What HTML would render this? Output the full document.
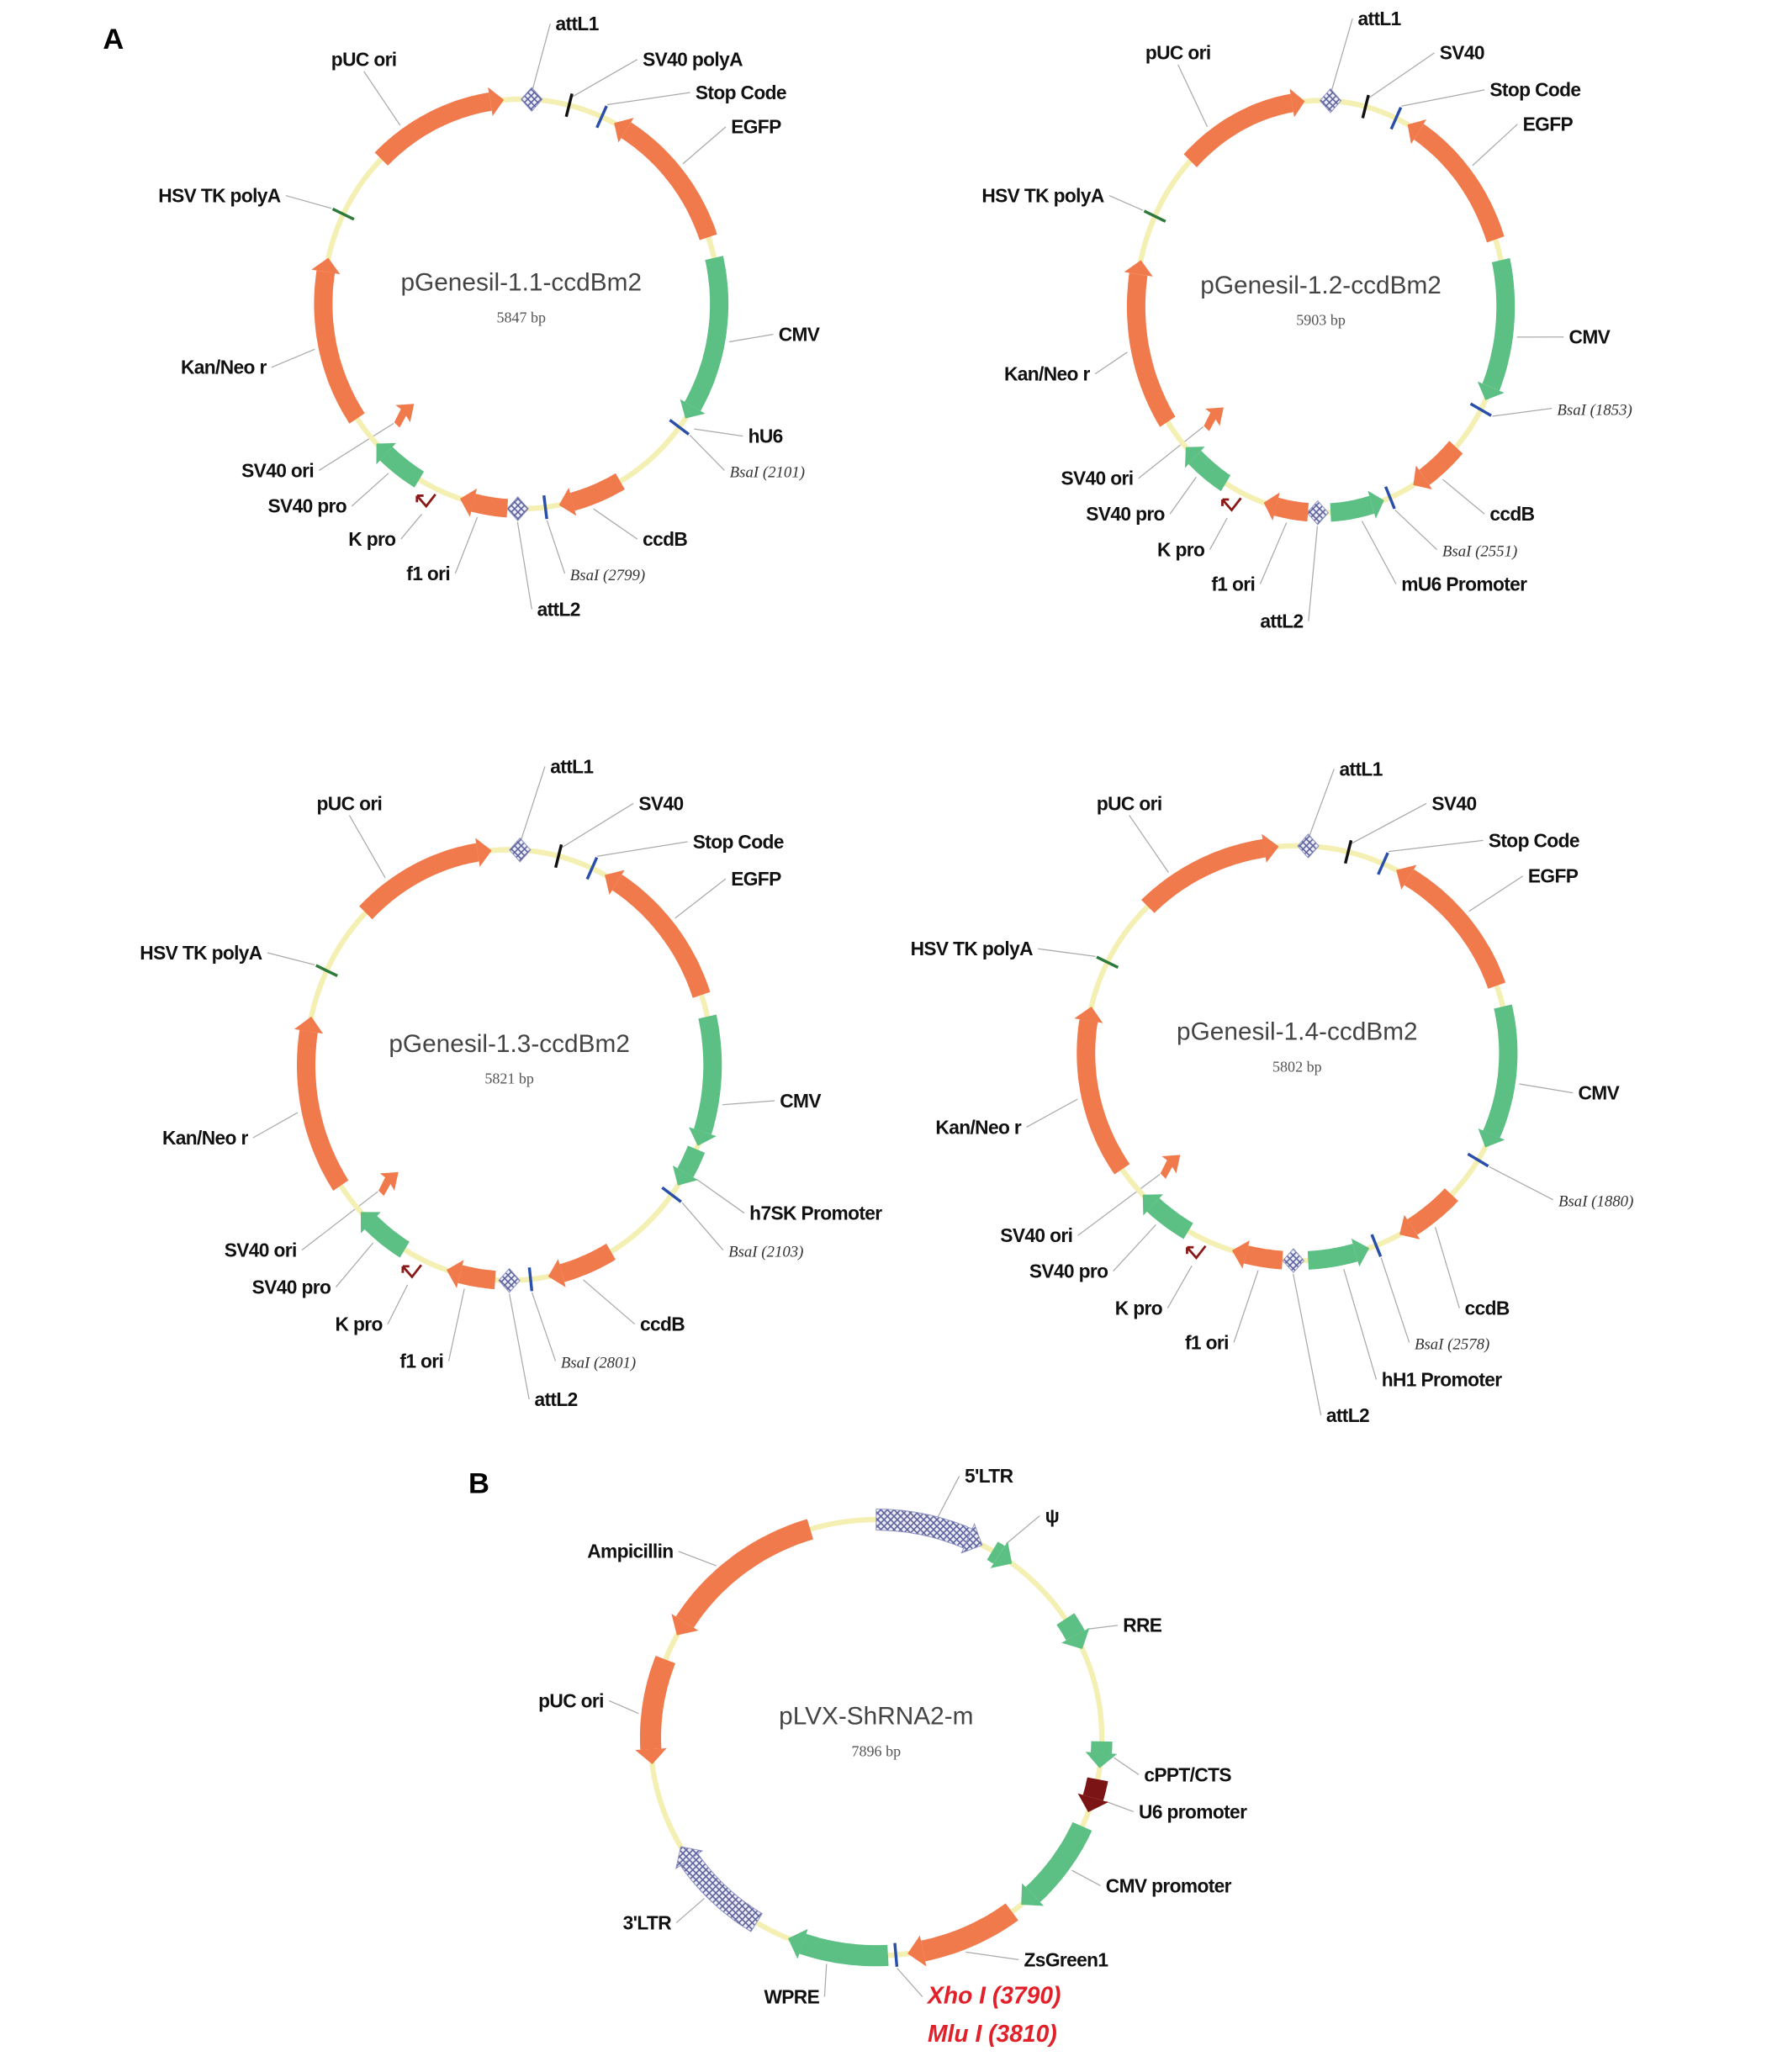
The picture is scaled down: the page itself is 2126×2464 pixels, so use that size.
<!DOCTYPE html>
<html><head><meta charset="utf-8">
<style>
html,body{margin:0;padding:0;background:#fff;}
svg{display:block;}
text{font-family:"Liberation Sans",Arial,sans-serif;}
.lb{font-weight:bold;font-size:14.5px;fill:#111;letter-spacing:-0.4px;}
.bs{font-family:"Liberation Serif",serif;font-style:italic;font-size:12px;fill:#333;}
.tt{font-size:19px;fill:#444;}
.bp{font-family:"Liberation Serif",serif;font-size:11.5px;fill:#555;}
.rd{font-weight:bold;font-style:italic;font-size:18px;fill:#e2202a;}
</style></head>
<body>
<svg id="fig" width="2126" height="2464" viewBox="0 0 1355 1568" preserveAspectRatio="none" xmlns="http://www.w3.org/2000/svg">
<defs>
<pattern id="hatch" width="5" height="5" patternUnits="userSpaceOnUse">
<rect width="5" height="5" fill="#eeeef8"/>
<path d="M0 0L5 5M5 0L0 5" stroke="#5a5f9a" stroke-width="1"/>
</pattern>
</defs>
<text x="78" y="37" font-family="Liberation Serif" font-weight="bold" font-size="22">A</text>
<text x="355" y="1130" font-family="Liberation Serif" font-weight="bold" font-size="22">B</text>
<g id="layer"></g>
</svg>
<script>
// ---- map definitions (center, radii) ----
const mapNames=["pGenesil-1.1-ccdBm2","pGenesil-1.2-ccdBm2","pGenesil-1.3-ccdBm2","pGenesil-1.4-ccdBm2","pLVX-ShRNA2-m"];
const mapSizes=["5847 bp","5903 bp","5821 bp","5802 bp","7896 bp"];
const mapGeom=[[395,230,150,155],[1001,232,140,156],[386,806,154,163],[983,797,160,157],[664,1315,171,165]];
// features: [name, startAngle, endAngle, type, dir]  (angles in degrees clockwise from top)
const feats1=[["puc-ori",315,355,"o",1],["attl1",3,3,"h",0],["sv40-polya",14,14,"k",0],["stop-code",24,24,"b",0],["egfp",28,71,"o",-1],["cmv",77,124,"g",1],["bsai-2101",127,127,"b",0],["ccdb",150,169,"o",1],["bsai-2799",173,173,"b",0],["attl2",181,181,"h",0],["f1-ori",184,198,"o",1],["sv40-pro",211,227,"g",1],["kan-neo-r",236,283,"o",1],["hsv-tk-polya",296,296,"t",0]];
const feats2=[["puc-ori",315,355,"o",1],["attl1",3,3,"h",0],["sv40",14,14,"k",0],["stop-code",24,24,"b",0],["egfp",28,71,"o",-1],["cmv",77,117,"g",1],["bsai-1853",120,120,"b",0],["ccdb",133,150,"o",1],["bsai-2551",158,158,"b",0],["mu6-promoter",160,177,"g",-1],["attl2",181,181,"h",0],["f1-ori",184,198,"o",1],["sv40-pro",211,227,"g",1],["kan-neo-r",236,283,"o",1],["hsv-tk-polya",296,296,"t",0]];
const feats3=[["puc-ori",315,355,"o",1],["attl1",3,3,"h",0],["sv40",14,14,"k",0],["stop-code",24,24,"b",0],["egfp",28,71,"o",-1],["cmv",77,112,"g",1],["h7sk-promoter",113,124,"g",1],["bsai-2103",127,127,"b",0],["ccdb",150,169,"o",1],["bsai-2801",174,174,"b",0],["attl2",180,180,"h",0],["f1-ori",184,198,"o",1],["sv40-pro",211,227,"g",1],["kan-neo-r",236,283,"o",1],["hsv-tk-polya",296,296,"t",0]];
const feats4=[["puc-ori",315,355,"o",1],["attl1",3,3,"h",0],["sv40",14,14,"k",0],["stop-code",24,24,"b",0],["egfp",28,71,"o",-1],["cmv",77,117,"g",1],["bsai-1880",121,121,"b",0],["ccdb",133,151,"o",1],["bsai-2578",158,158,"b",0],["hh1-promoter",160,177,"g",-1],["attl2",181,181,"h",0],["f1-ori",184,198,"o",1],["sv40-pro",211,227,"g",1],["kan-neo-r",236,283,"o",1],["hsv-tk-polya",296,296,"t",0]];
const featsB=[["5-ltr",0,28,"H",1],["psi",31,37,"g",1],["rre",57,66,"g",1],["cppt-cts",91,98,"g",1],["u6-promoter",101,110,"r",1],["cmv-promoter",114,140,"g",1],["zsgreen1",143,172,"o",1],["xho-mlu-site",175,175,"b",0],["wpre",177,203,"g",1],["3-ltr",212,240,"H",1],["puc-ori",263,291,"o",-1],["ampicillin",298,343,"o",-1]];
const mapFeats=[feats1,feats2,feats3,feats4,featsB];
// labels: [text, leftX, centerY, angle, class]
const labels1=[["attL1",421,18,3,"lb"],["SV40 polyA",487,45,14,"lb"],["Stop Code",527,70,24,"lb"],["EGFP",554,96,50,"lb"],["CMV",590,253,100,"lb"],["hU6",567,330,125,"lb"],["BsaI (2101)",553,356,127,"bs"],["ccdB",487,408,160,"lb"],["BsaI (2799)",432,434,173,"bs"],["attL2",407,461,181,"lb"],["f1 ori",308,434,192,"lb"],["K pro",264,408,-1,"lb"],["SV40 pro",203,383,219,"lb"],["SV40 ori",183,356,-2,"lb"],["Kan/Neo r",137,278,258,"lb"],["HSV TK polyA",120,148,296,"lb"],["pUC ori",251,45,325,"lb"]];
const labels2=[["attL1",1029,14,3,"lb"],["SV40",1091,40,14,"lb"],["Stop Code",1129,68,24,"lb"],["EGFP",1154,94,50,"lb"],["CMV",1189,255,98,"lb"],["BsaI (1853)",1180,309,120,"bs"],["ccdB",1129,389,142,"lb"],["BsaI (2551)",1093,416,158,"bs"],["mU6 Promoter",1062,442,168,"lb"],["attL2",955,470,181,"lb"],["f1 ori",918,442,190,"lb"],["K pro",877,416,-1,"lb"],["SV40 pro",823,389,219,"lb"],["SV40 ori",804,362,-2,"lb"],["Kan/Neo r",761,283,258,"lb"],["HSV TK polyA",744,148,296,"lb"],["pUC ori",868,40,325,"lb"]];
const labels3=[["attL1",417,580,3,"lb"],["SV40",484,608,14,"lb"],["Stop Code",525,637,24,"lb"],["EGFP",554,665,50,"lb"],["CMV",591,833,100,"lb"],["h7SK Promoter",568,918,120,"lb"],["BsaI (2103)",552,946,127,"bs"],["ccdB",485,1002,160,"lb"],["BsaI (2801)",425,1030,174,"bs"],["attL2",405,1059,180,"lb"],["f1 ori",303,1030,192,"lb"],["K pro",254,1002,-1,"lb"],["SV40 pro",191,974,219,"lb"],["SV40 ori",170,946,-2,"lb"],["Kan/Neo r",123,861,258,"lb"],["HSV TK polyA",106,721,296,"lb"],["pUC ori",240,608,325,"lb"]];
const labels4=[["attL1",1015,582,3,"lb"],["SV40",1085,608,14,"lb"],["Stop Code",1128,636,24,"lb"],["EGFP",1158,663,50,"lb"],["CMV",1196,827,98,"lb"],["BsaI (1880)",1181,908,121,"bs"],["ccdB",1110,990,142,"lb"],["BsaI (2578)",1072,1016,158,"bs"],["hH1 Promoter",1047,1044,168,"lb"],["attL2",1005,1071,181,"lb"],["f1 ori",898,1016,190,"lb"],["K pro",845,990,-1,"lb"],["SV40 pro",780,962,219,"lb"],["SV40 ori",758,935,-2,"lb"],["Kan/Neo r",709,853,258,"lb"],["HSV TK polyA",690,718,296,"lb"],["pUC ori",831,608,325,"lb"]];
const labelsB=[["5'LTR",731,1117,15,"lb"],["ψ",792,1147,33,"lb"],["RRE",851,1230,62,"lb"],["cPPT/CTS",867,1343,95,"lb"],["U6 promoter",863,1371,106,"lb"],["CMV promoter",838,1427,125,"lb"],["ZsGreen1",776,1483,158,"lb"],["Xho I (3790)",703,1511,175,"rd"],["Mlu I (3810)",703,1540,null,"rd"],["WPRE",579,1511,192,"lb"],["3'LTR",472,1455,226,"lb"],["pUC ori",408,1287,276,"lb"],["Ampicillin",445,1174,318,"lb"]];
const mapLabels=[labels1,labels2,labels3,labels4,labelsB];

const NS="http://www.w3.org/2000/svg";
const layer=document.getElementById('layer');
const COL={o:"#f07a4c",g:"#5cbf83",r:"#7b1414"};
function el(tag,attrs,parent){const e=document.createElementNS(NS,tag);for(const k in attrs)e.setAttribute(k,attrs[k]);(parent||layer).appendChild(e);return e;}
function P(g,a,dr){const r=a*Math.PI/180;return [g[0]+(g[2]+dr)*Math.sin(r),g[1]-(g[3]+dr)*Math.cos(r)];}
function arcPts(g,a1,a2,dr){const pts=[];const n=Math.max(2,Math.ceil(Math.abs(a2-a1)));for(let i=0;i<=n;i++)pts.push(P(g,a1+(a2-a1)*i/n,dr));return pts;}
function ptsStr(p){return p.map(q=>q[0].toFixed(1)+","+q[1].toFixed(1)).join(" ");}

mapGeom.forEach((g,mi)=>{
  const grp=el('g',{});
  
  
  const bb=el('ellipse',{cx:g[0],cy:g[1],rx:g[2],ry:g[3],fill:"none",stroke:"#f4efb2","stroke-width":4},grp);
  
  
  const w=mi==4?8:7, hw=mi==4?12:11;
  mapFeats[mi].forEach(f=>{
    const [name,a1,a2,type,dir]=f;
    let e;
    if(type=="k"||type=="b"||type=="t"){
      const p1=P(g,a1,-9),p2=P(g,a1,9);
      e=el('line',{x1:p1[0],y1:p1[1],x2:p2[0],y2:p2[1],stroke:type=="k"?"#111":type=="b"?"#2a4fa8":"#2d7a3a","stroke-width":2.2},grp);
    } else if(type=="h"){
      const c=P(g,a1,0);
      e=el('polygon',{points:ptsStr([[c[0]-8,c[1]],[c[0],c[1]-9],[c[0]+8,c[1]],[c[0],c[1]+9]]),fill:"url(#hatch)",stroke:"#8c90c0","stroke-width":0.6},grp);
    } else {
      const span=a2-a1;
      const hd=Math.min(span,Math.max(4,1200/ (g[2]*Math.PI)));
      let body,head;
      if(dir>=0){
        const b=a2-hd;
        body=span>hd?arcPts(g,a1,b,w).concat(arcPts(g,b,a1,-w)):[];
        head=[P(g,b,hw),P(g,a2,0),P(g,b,-hw)];
      } else {
        const b=a1+hd;
        body=span>hd?arcPts(g,b,a2,w).concat(arcPts(g,a2,b,-w)):[];
        head=[P(g,b,hw),P(g,a1,0),P(g,b,-hw)];
      }
      const fill=type=="H"?"url(#hatch)":COL[type];
      const stroke=type=="H"?"#8c90c0":"none";
      e=el('g',{},grp);
      if(body.length)el('polygon',{points:ptsStr(body),fill:fill,stroke:stroke,"stroke-width":0.6},e);
      el('polygon',{points:ptsStr(head),fill:fill,stroke:stroke,"stroke-width":0.6},e);
    }
    
    
  });
  if(mi<4){
    // SV40 ori small arrow & K pro bent arrow
    const s=P(g,228,-30);
    const so=el('polygon',{points:ptsStr([[s[0]-7,s[1]+6],[s[0]-2,s[1]-4],[s[0]-6,s[1]-7],[s[0]+8,s[1]-8],[s[0]+5,s[1]+6],[s[0]+2,s[1]+1],[s[0]-3,s[1]+10]]),fill:COL.o},grp);
    
    
    const k=P(g,206,12);
    const kp=el('path',{d:`M${k[0]-8},${k[1]-5} L${k[0]-1},${k[1]+3} L${k[0]+6},${k[1]-6} M${k[0]-8},${k[1]-5} l5,0 M${k[0]-8},${k[1]-5} l0,5`,fill:"none",stroke:"#8a1a1a","stroke-width":1.8},grp);
    
    
  }
  const t=el('text',{x:g[0],y:g[1]-10,"text-anchor":"middle",class:"tt"},grp);
  t.textContent=mapNames[mi];
  
  
  const b=el('text',{x:g[0],y:g[1]+14,"text-anchor":"middle",class:"bp"},grp);
  b.textContent=mapSizes[mi];
  
  
  mapLabels[mi].forEach(L=>{
    const [txt,x,y,ang,cls]=L;
    const tx=el('text',{x:x,y:y+5,class:cls},grp);
    tx.textContent=txt;
    
    
    if(ang===null)return;
    let s;
    if(ang==-1)s=P(g,206,22);
    else if(ang==-2)s=P(g,228,-20);
    else s=P(g,ang,ang>=330||ang<=20?6:10);
    const wdt=tx.getComputedTextLength();
    let ex,ey=y;
    if(x>s[0]+5)ex=x-4;else if(x+wdt<s[0]-5)ex=x+wdt+4;else{ex=x+wdt/2;ey=y<s[1]?y+9:y-9;}
    const ln=el('line',{x1:s[0],y1:s[1],x2:ex,y2:ey,stroke:"#aaa","stroke-width":0.8},grp);
    grp.insertBefore(ln,grp.firstChild);
    
    
  });
});
</script>
</body></html>
